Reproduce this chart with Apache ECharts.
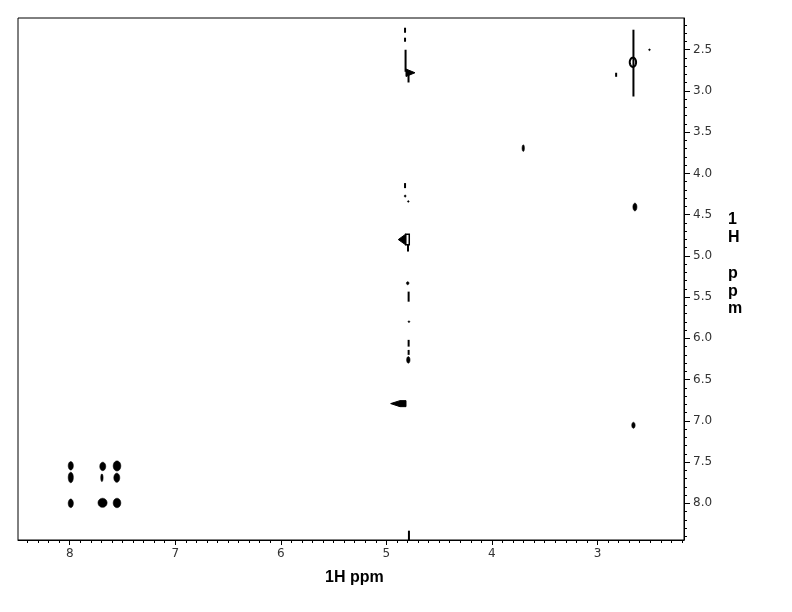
<!DOCTYPE html>
<html>
<head>
<meta charset="utf-8">
<script src="https://cdn.jsdelivr.net/npm/echarts@6/dist/echarts.min.js"></script>
<style>html,body{margin:0;padding:0;background:#fff}#chart{width:792px;height:612px}</style>
</head>
<body>
<div id="chart"></div>
<script>
// ---- axis ranges (ppm) ----
const xRange = [2.18, 8.49];     // F2, shown reversed
const yRange = [2.115, 8.445];   // F1, shown reversed
const xMajorTicks = [3, 4, 5, 6, 7, 8];
const yMajorTicks = [2.5, 3.0, 3.5, 4.0, 4.5, 5.0, 5.5, 6.0, 6.5, 7.0, 7.5, 8.0];
const xTitle = '1H ppm';
const yTitleLines = ['1', 'H', '', 'p', 'p', 'm'];

// ---- contour peaks: [x ppm, y ppm, half-width ppm, half-height ppm] ----
const peakBlobs = [
  [7.99, 7.545, 0.024, 0.051],
  [7.99, 7.687, 0.024, 0.063],
  [7.99, 8.000, 0.024, 0.052],
  [7.687, 7.553, 0.028, 0.051],
  [7.695, 7.690, 0.011, 0.046],
  [7.689, 7.994, 0.043, 0.055],
  [7.552, 7.547, 0.036, 0.061],
  [7.554, 7.690, 0.028, 0.055],
  [7.552, 7.996, 0.036, 0.057],
  [3.703, 3.693, 0.011, 0.040],
  [2.645, 4.407, 0.019, 0.047],
  [2.659, 7.054, 0.016, 0.036],
  [2.507, 2.500, 0.008, 0.010],
  [4.798, 5.331, 0.012, 0.018],
  [4.786, 5.797, 0.007, 0.010],
  [4.792, 6.261, 0.016, 0.040],
  [4.822, 4.274, 0.007, 0.014],
  [4.792, 4.340, 0.006, 0.008]
];

// ---- open contour rings: [x, y, half-width, half-height] ----
const peakRings = [
  [2.664, 2.652, 0.030, 0.056]
];

// ---- t1 noise streaks: [x ppm, y start ppm, y end ppm] ----
const t1Streaks = [
  [2.659, 2.257, 3.067],
  [2.823, 2.779, 2.828],
  [4.823, 2.233, 2.294],
  [4.823, 2.354, 2.403],
  [4.818, 2.500, 2.767],
  [4.790, 2.763, 2.897],
  [4.823, 4.117, 4.178],
  [4.795, 4.866, 4.947],
  [4.789, 5.433, 5.555],
  [4.789, 6.018, 6.100],
  [4.789, 6.140, 6.200],
  [4.786, 8.332, 8.445]
];

// ---- wedge-shaped contours: vertex lists [x, y] in ppm ----
const wedgePeaks = [
  [[4.814, 2.734], [4.729, 2.779], [4.814, 2.824]],
  [[4.887, 4.802], [4.817, 4.736], [4.817, 4.866]],
  [[4.959, 6.791], [4.871, 6.755], [4.814, 6.755], [4.814, 6.828], [4.871, 6.828]]
];
// rectangle outline attached to the 4.8 diagonal peak: [x1, y1, x2, y2]
const boxPeaks = [
  [4.817, 4.736, 4.783, 4.866]
];

function ellipsePts(api, d) {
  const c = api.coord([d[0], d[1]]);
  const e = api.coord([d[0] + d[2], d[1] + d[3]]);
  const a = Math.max(Math.abs(e[0] - c[0]), 0.8);
  const b = Math.max(Math.abs(e[1] - c[1]), 0.8);
  const pts = [];
  for (let i = 0; i < 28; i++) {
    const t = i / 28 * Math.PI * 2;
    pts.push([c[0] + a * Math.cos(t), c[1] + b * Math.sin(t)]);
  }
  return pts;
}

function range(a, b, step) {
  const out = [];
  for (let v = a; v <= b + 1e-9; v += step) out.push(Math.round(v * 10) / 10);
  return out;
}
const xMinor = range(2.2, 8.4, 0.1);
const yMinor = range(2.2, 8.4, 0.1);

const labelFont = { fontFamily: 'DejaVu Sans', fontSize: 12, color: '#333' };

const chart = echarts.init(document.getElementById('chart'), null, { renderer: 'canvas' });
const option = {
  animation: false,
  backgroundColor: '#fff',
  grid: { left: 18, top: 18, right: 108, bottom: 72, show: true, borderColor: '#000', borderWidth: 1 },
  xAxis: [
    {
      type: 'value', inverse: true, min: xRange[0], max: xRange[1], position: 'bottom',
      axisLine: { show: true, lineStyle: { color: '#000', width: 1 } },
      axisTick: { show: true, customValues: xMajorTicks, length: 5, lineStyle: { color: '#000' } },
      axisLabel: Object.assign({ show: true, customValues: xMajorTicks, margin: 8, formatter: v => String(Math.round(v)) }, labelFont),
      splitLine: { show: false }
    },
    {
      type: 'value', inverse: true, min: xRange[0], max: xRange[1], position: 'bottom',
      axisLine: { show: false },
      axisTick: { show: true, customValues: xMinor, length: 3, lineStyle: { color: '#000' } },
      axisLabel: { show: false },
      splitLine: { show: false }
    }
  ],
  yAxis: [
    {
      type: 'value', inverse: true, min: yRange[0], max: yRange[1], position: 'right',
      axisLine: { show: true, lineStyle: { color: '#000', width: 1 } },
      axisTick: { show: true, customValues: yMajorTicks, length: 6, lineStyle: { color: '#000' } },
      axisLabel: Object.assign({ show: true, customValues: yMajorTicks, margin: 9, formatter: v => v.toFixed(1) }, labelFont),
      splitLine: { show: false }
    },
    {
      type: 'value', inverse: true, min: yRange[0], max: yRange[1], position: 'right',
      axisLine: { show: false },
      axisTick: { show: true, customValues: yMinor, length: 3, lineStyle: { color: '#000' } },
      axisLabel: { show: false },
      splitLine: { show: false }
    }
  ],
  graphic: [
    {
      type: 'text', left: 325, top: 570,
      style: { text: xTitle, font: 'bold 16px "Liberation Sans", Arial, sans-serif', fill: '#000' }
    },
    {
      type: 'text', left: 728, top: 211,
      style: { text: yTitleLines.join('\n'),
               font: 'bold 16px "Liberation Sans", Arial, sans-serif', lineHeight: 17.8, fill: '#000' }
    }
  ],
  series: [
    {
      type: 'custom', name: 'blobs', xAxisIndex: 0, yAxisIndex: 0, clip: true,
      data: peakBlobs,
      renderItem: (params, api) => ({
        type: 'polygon',
        shape: { points: ellipsePts(api, peakBlobs[params.dataIndex]) },
        style: { fill: '#000', stroke: '#000', lineWidth: 0.6 }
      })
    },
    {
      type: 'custom', name: 'rings', xAxisIndex: 0, yAxisIndex: 0, clip: true,
      data: peakRings,
      renderItem: (params, api) => ({
        type: 'polygon',
        shape: { points: ellipsePts(api, peakRings[params.dataIndex]) },
        style: { fill: 'none', stroke: '#000', lineWidth: 2 }
      })
    },
    {
      type: 'custom', name: 'streaks', xAxisIndex: 0, yAxisIndex: 0, clip: true,
      data: t1Streaks,
      renderItem: (params, api) => {
        const d = t1Streaks[params.dataIndex];
        const p1 = api.coord([d[0], d[1]]);
        const p2 = api.coord([d[0], d[2]]);
        return {
          type: 'line',
          shape: { x1: p1[0], y1: p1[1], x2: p2[0], y2: p2[1] },
          style: { stroke: '#000', lineWidth: 2 }
        };
      }
    },
    {
      type: 'custom', name: 'wedges', xAxisIndex: 0, yAxisIndex: 0, clip: true,
      data: wedgePeaks.map(w => w[0]),
      renderItem: (params, api) => ({
        type: 'polygon',
        shape: { points: wedgePeaks[params.dataIndex].map(p => api.coord(p)) },
        style: { fill: '#000', stroke: '#000', lineWidth: 1 }
      })
    },
    {
      type: 'custom', name: 'boxes', xAxisIndex: 0, yAxisIndex: 0, clip: true,
      data: boxPeaks.map(b => [b[0], b[1]]),
      renderItem: (params, api) => {
        const b = boxPeaks[params.dataIndex];
        const p1 = api.coord([b[0], b[1]]);
        const p2 = api.coord([b[2], b[3]]);
        return {
          type: 'rect',
          shape: { x: Math.min(p1[0], p2[0]), y: Math.min(p1[1], p2[1]),
                   width: Math.abs(p2[0] - p1[0]), height: Math.abs(p2[1] - p1[1]) },
          style: { fill: 'none', stroke: '#000', lineWidth: 1.5 }
        };
      }
    }
  ]
};
chart.setOption(option);
</script>
</body>
</html>
